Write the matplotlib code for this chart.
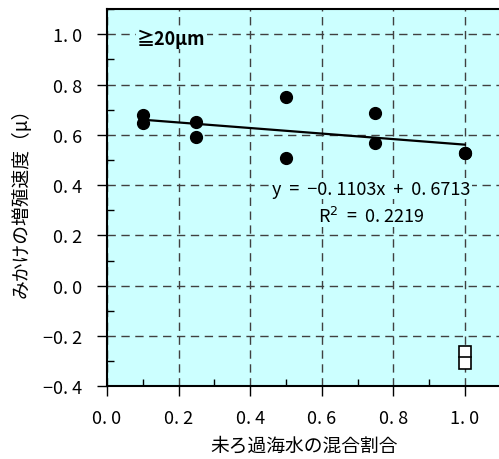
import matplotlib
matplotlib.use("Agg")
import matplotlib.pyplot as plt
from matplotlib.patches import Rectangle
from matplotlib.ticker import MultipleLocator, FuncFormatter
import numpy as np

plt.rcParams['font.family'] = ['Noto Sans CJK JP', 'DejaVu Sans']

# data
mix_ratio = [0.1, 0.1, 0.25, 0.25, 0.5, 0.5, 0.75, 0.75, 1.0, 1.0]
growth_rate = [0.679, 0.648, 0.652, 0.592, 0.752, 0.508, 0.688, 0.568, 0.528, 0.526]
slope = -0.1103
intercept = 0.6713
r2 = 0.2219

# the small white box near x = 1.0
box_x = 1.0
box_low, box_mid, box_high = -0.33, -0.285, -0.24

size_label = "≧20μm"
x_label = "未ろ過海水の混合割合"
y_label = "みかけの増殖速度（μ）"

fig = plt.figure(figsize=(4.99, 4.60), dpi=100)
ax = fig.add_axes([0.2144, 0.158, 0.789, 0.820])
ax.set_facecolor("#CCFFFF")

ax.set_xlim(0, 1.1)
ax.set_ylim(-0.4, 1.1)

ax.xaxis.set_major_locator(MultipleLocator(0.2))
ax.xaxis.set_minor_locator(MultipleLocator(0.1))
ax.yaxis.set_major_locator(MultipleLocator(0.2))
ax.yaxis.set_minor_locator(MultipleLocator(0.1))

fmt = FuncFormatter(lambda v, p: f"{v:.1f}".replace("-", "\u2212").replace(".", ". "))
ax.xaxis.set_major_formatter(fmt)
ax.yaxis.set_major_formatter(fmt)

ax.tick_params(which="major", direction="out", length=7, width=1, labelsize=13, pad=11)
ax.tick_params(which="minor", direction="in", length=5, width=1)
ax.tick_params(axis="x", which="major", pad=9)

ax.grid(True, which="major", color="#404040", linestyle=(0, (6, 4)), linewidth=1.0)
ax.set_axisbelow(True)
for s in ax.spines.values():
    s.set_linewidth(1.5)

# trend line over the range of the data
xl = np.array([min(mix_ratio), max(mix_ratio)])
ax.plot(xl, slope * xl + intercept, color="black", linewidth=1.6, zorder=3)

ax.plot(mix_ratio, growth_rate, "o", color="black", markersize=8.5, zorder=4)

# box near the bottom right
bw = 0.034
ax.add_patch(Rectangle((box_x - bw / 2, box_low), bw, box_high - box_low,
                       facecolor="white", edgecolor="black", linewidth=1.2, zorder=4))
ax.plot([box_x - bw / 2, box_x + bw / 2], [box_mid, box_mid], color="black", linewidth=1.2, zorder=5)

bg = dict(facecolor="#CCFFFF", edgecolor="none", pad=1)
ax.text(0.085, 0.985, size_label, fontsize=13, fontweight="bold", ha="left", va="center", bbox=bg)
ax.text(0.739, 0.386, f"y  =  \u2212{abs(slope):.4f}x  +  {intercept:.4f}".replace(".", ". "),
        fontsize=13, ha="center", va="center", bbox=bg, zorder=5)
ax.text(0.739, 0.278, f"R$^2$  =  {r2:.4f}".replace(".", ". "), fontsize=13,
        ha="center", va="center", bbox=bg, zorder=5)

ax.set_xlabel(x_label, fontsize=13.5, labelpad=6)
ax.set_ylabel(y_label, fontsize=13.5, labelpad=8)

fig.savefig("out.png", dpi=100)
